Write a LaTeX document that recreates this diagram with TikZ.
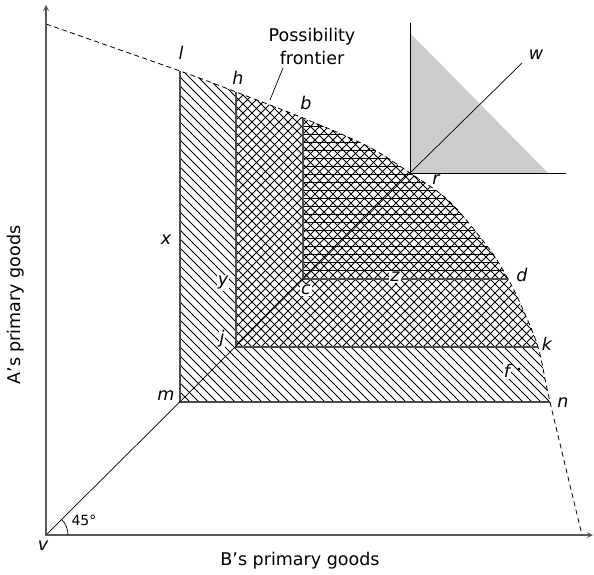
\documentclass[tikz,border=0pt]{standalone}
\usepackage{fontspec}
\setmainfont{DejaVu Sans}
\begin{document}
\begin{tikzpicture}[x=1pt, y=-1pt, >=stealth,
    txt/.style={font=\fontsize{17.5}{23}\selectfont, inner sep=1pt},
    lbl/.style={font=\fontsize{17.5}{20}\selectfont\itshape, inner sep=1pt},
    wlbl/.style={lbl, fill=white},
    hatch/.style={line width=0.75pt, black},
    edge/.style={line width=1.1pt, black!70},
    axis/.style={line width=1.6pt, black!65}]
    \useasboundingbox (0,0) rectangle (594,575);
    % corner points
    \coordinate (v) at (46,535);
    \coordinate (l) at (180,71);
    \coordinate (m) at (180,402);
    \coordinate (h) at (236,92);
    \coordinate (j) at (236,347);
    \coordinate (b) at (303,118);
    \coordinate (c) at (303,279);
    \coordinate (r) at (410,173);
    \coordinate (d) at (508,279);
    \coordinate (k) at (538,347);
    \coordinate (n) at (550,402);
    \coordinate (ytop) at (46,24);
    \coordinate (xend) at (582,535);
    \newcommand{\frontier}{plot[smooth, tension=0.55] coordinates {(ytop) (l) (h) (b) (367,146) (r) (450,202) (490,250) (d) (520,303) (k) (n) (xend)}}
    % hatching under the frontier
    \begin{scope}
        \clip \frontier -- (v) -- cycle;
        \begin{scope}
            \clip (m) rectangle (594,0);
            \foreach \c in {-230,-221,...,480}
                \draw[hatch] (\c,0) -- ++(600,600);
        \end{scope}
        \begin{scope}
            \clip (j) rectangle (594,0);
            \foreach \c in {320,329,...,900}
                \draw[hatch] (\c,0) -- ++(-700,700);
        \end{scope}
        \begin{scope}
            \clip (c) rectangle (594,0);
            \foreach \y in {118,126,...,278}
                \draw[hatch] (300,\y) -- (594,\y);
        \end{scope}
    \end{scope}
    \draw[edge] (l) -- (m) -- (n);
    \draw[edge] (h) -- (j) -- (k);
    \draw[edge] (b) -- (c) -- (d);
    \draw[line width=0.7pt] (v) -- (r);
    \draw[line width=0.8pt, dash pattern=on 5pt off 3.5pt] \frontier;
    % small inset at r
    \coordinate (wend) at (522,63);
    \fill[black!20] (410,33) -- (r) -- (548,173) -- cycle;
    \draw[line width=0.9pt] (410,23) -- (r) -- (566,173);
    \draw[line width=0.7pt] (r) -- (wend);
    % axes
    \draw[axis, <->] (46,5) -- (v) -- (593,535);
    \draw[line width=0.7pt] (68,535) arc[start angle=0, end angle=-45, radius=22];
    % labels
    \node[txt, align=center] (pf) at (312,46) {Possibility\\frontier};
    \coordinate (pfstart) at (283,68);
    \coordinate (pfend) at (270,100);
    \draw[line width=0.7pt] (pfstart) -- (pfend);
    \node[lbl] (lab-l) at (181,53) {l};
    \node[lbl] (lab-h) at (238,78) {h};
    \node[lbl] (lab-b) at (306,103) {b};
    \node[lbl] (lab-w) at (536,55) {w};
    \node[wlbl] (lab-r) at (436,180) {r};
    \node[lbl] (lab-d) at (522,275) {d};
    \node[lbl] (lab-k) at (547,344) {k};
    \node[lbl] (lab-n) at (563,403) {n};
    \node[lbl] (lab-m) at (166,396) {m};
    \node[lbl] (lab-x) at (166,240) {x};
    \node[wlbl] (lab-y) at (223,283) {y};
    \node[wlbl] (lab-j) at (222,339) {j};
    \node[wlbl] (lab-c) at (306,290) {c};
    \node[wlbl] (lab-z) at (395,277) {z};
    \node[wlbl] (lab-f) at (507,371) {f};
    \fill (519,369) circle[radius=1.6];
    \node[lbl] (lab-v) at (43,546) {v};
    \node[txt, font=\fontsize{14}{16}\selectfont] (ang) at (84,520) {45°};
    \node[txt] (xlab) at (300,561) {B's primary goods};
    \node[txt, rotate=90] (ylab) at (16,305) {A's primary goods};
\end{tikzpicture}
\end{document}
